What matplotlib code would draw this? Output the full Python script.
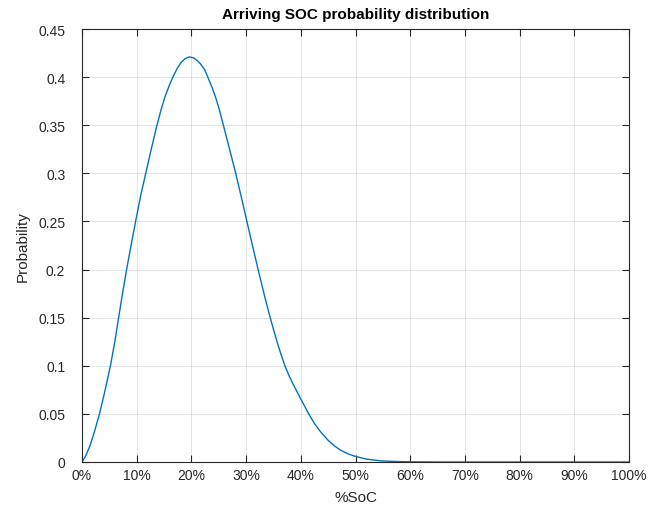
import matplotlib
matplotlib.use("Agg")
import matplotlib.pyplot as plt
from matplotlib.ticker import FixedLocator, FixedFormatter

soc = [0.000, 0.006, 0.014, 0.022, 0.032, 0.042, 0.052, 0.060, 0.067, 0.074,
       0.0815, 0.090, 0.098, 0.107, 0.1165, 0.127, 0.137, 0.145, 0.152, 0.160,
       0.167, 0.174, 0.181, 0.188, 0.196, 0.204, 0.211, 0.217, 0.224, 0.230,
       0.238, 0.2457, 0.252, 0.2585, 0.270, 0.281, 0.291, 0.3005, 0.311, 0.322,
       0.334, 0.345, 0.356, 0.364, 0.371, 0.378, 0.386, 0.400, 0.414, 0.425,
       0.436, 0.450, 0.462, 0.473, 0.487, 0.500, 0.520, 0.546, 0.575, 0.600,
       0.650, 0.700, 0.800, 0.900, 1.000]
prob = [0.000, 0.0055, 0.016, 0.030, 0.050, 0.074, 0.100, 0.125, 0.150, 0.175,
        0.200, 0.226, 0.250, 0.276, 0.300, 0.326, 0.350, 0.367, 0.380, 0.392,
        0.401, 0.409, 0.415, 0.419, 0.421, 0.420, 0.417, 0.4135, 0.408, 0.400,
        0.389, 0.3765, 0.3642, 0.350, 0.3245, 0.300, 0.276, 0.2525, 0.2265, 0.200,
        0.172, 0.148, 0.126, 0.1115, 0.100, 0.0903, 0.0808, 0.0654, 0.0505, 0.040,
        0.0315, 0.0225, 0.0165, 0.0122, 0.0083, 0.0058, 0.0030, 0.0012, 0.0005, 0.0002,
        0.0, 0.0, 0.0, 0.0, 0.0]

xticks = [0.0, 0.1, 0.2, 0.3, 0.4, 0.5, 0.6, 0.7, 0.8, 0.9, 1.0]
xticklabels = ["0%", "10%", "20%", "30%", "40%", "50%", "60%", "70%", "80%", "90%", "100%"]
yticks = [0, 0.05, 0.1, 0.15, 0.2, 0.25, 0.3, 0.35, 0.4, 0.45]
yticklabels = ["0", "0.05", "0.1", "0.15", "0.2", "0.25", "0.3", "0.35", "0.4", "0.45"]

plt.rcParams['font.family'] = ['Liberation Sans', 'DejaVu Sans']

fig = plt.figure(figsize=(6.52, 5.06), dpi=100)
ax = fig.add_axes([82/652, 43/506, (629-82)/652, (463-30)/506])

ax.plot(soc, prob, color='#0072BD', linewidth=1.0)

ax.set_xlim(0, 1)
ax.set_ylim(0, 0.45)
ax.xaxis.set_major_locator(FixedLocator(xticks))
ax.xaxis.set_major_formatter(FixedFormatter(xticklabels))
ax.yaxis.set_major_locator(FixedLocator(yticks))
ax.yaxis.set_major_formatter(FixedFormatter(yticklabels))

ax.grid(True, color='#262626', alpha=0.15, linewidth=0.6)
ax.set_axisbelow(True)
for s in ax.spines.values():
    s.set_color('#262626')
    s.set_linewidth(0.8)
ax.tick_params(direction='in', length=5, width=0.8, color='#262626',
               top=True, right=True, labelsize=10, labelcolor='#262626')
ax.tick_params(axis='x', pad=4)
ax.tick_params(axis='y', pad=12)

ax.set_xlabel('%SoC', fontsize=11, color='#262626', labelpad=6)
ax.set_ylabel('Probability', fontsize=11, color='#262626', labelpad=6)
ax.set_title('Arriving SOC probability distribution', fontsize=11, fontweight='bold', pad=8)

fig.savefig('out.png', dpi=100)
